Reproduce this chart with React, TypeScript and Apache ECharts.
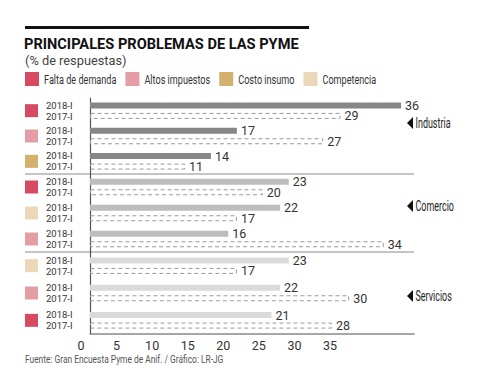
import React, { useEffect, useRef } from "react";
import * as echarts from "echarts";

const groups = ["Industria", "Comercio", "Servicios"];
const legendNames = ["Falta de demanda", "Altos impuestos", "Costo insumo", "Competencia"];
const legendColors = ["#d64b61", "#e39ea5", "#d3b06b", "#ead8b6"];
const industriaCats = ["Falta de demanda", "Altos impuestos", "Costo insumo"];
const comercioCats = ["Falta de demanda", "Competencia", "Altos impuestos"];
const serviciosCats = ["Competencia", "Altos impuestos", "Falta de demanda"];
const industria2018 = [36, 17, 14];
const industria2017 = [29, 27, 11];
const comercio2018 = [23, 22, 16];
const comercio2017 = [20, 17, 34];
const servicios2018 = [23, 22, 21];
const servicios2017 = [17, 30, 28];
const yearLabels = ["2018-I", "2017-I"];
const xTickMin = 0;
const xTickMax = 35;
const xTickStep = 5;

const SANS = "Roboto, 'Open Sans', sans-serif";

const groupCats = [industriaCats, comercioCats, serviciosCats];
const group2018 = [industria2018, comercio2018, servicios2018];
const group2017 = [industria2017, comercio2017, servicios2017];
const barColors = ["#878787", "#bdbdbd", "#dadada"];
const gridTops = [98, 174, 252];
const gridHeights = [76, 78, 82];
const groupLabelY = [123, 206, 296];

function measure(text: string, font: string): number {
  const c = document.createElement("canvas").getContext("2d");
  if (!c) return text.length * 6;
  c.font = font;
  return c.measureText(text).width;
}

export default function App() {
  const ref = useRef<HTMLDivElement>(null);
  useEffect(() => {
    if (!ref.current) return;
    const chart = echarts.init(ref.current, null, { renderer: "svg" });

    const grids: any[] = [];
    const xAxes: any[] = [];
    const yAxes: any[] = [];
    const series: any[] = [];
    const rich: any = {};
    legendNames.forEach((n, i) => {
      rich["s" + i] = { width: 13, height: 13, backgroundColor: legendColors[i] };
    });

    const valueLabel = { show: true, position: "right", distance: 4, fontFamily: SANS, fontSize: 12.5, color: "#333" };

    groups.forEach((g, gi) => {
      grids.push({ left: 90, width: 324, top: gridTops[gi], height: gridHeights[gi], containLabel: false });
      xAxes.push({
        type: "value",
        gridIndex: gi,
        min: 0,
        max: 37.5,
        show: gi === 2,
        axisLine: { show: gi === 2, lineStyle: { color: "#8a8a8a", width: 1.5 } },
        axisTick: { show: false },
        axisLabel: { show: false },
        splitLine: { show: false },
      });
      yAxes.push({
        type: "category",
        gridIndex: gi,
        inverse: true,
        data: groupCats[gi],
        axisLine: { show: true, onZero: false, lineStyle: { color: "#555", width: 1.2 } },
        axisTick: { show: false },
        axisLabel: {
          margin: 44,
          align: "left",
          fontFamily: SANS,
          fontSize: 9.5,
          lineHeight: 11,
          color: "#333",
          formatter: () => yearLabels.join("\n"),
        },
      });
      yAxes.push({
        type: "category",
        gridIndex: gi,
        inverse: true,
        data: groupCats[gi],
        position: "left",
        axisLine: { show: false },
        axisTick: { show: false },
        axisLabel: {
          margin: 65,
          align: "left",
          formatter: (v: string) => `{s${legendNames.indexOf(v)}| }`,
          rich,
        },
      });
      series.push({
        type: "bar",
        name: yearLabels[0] + " " + g,
        xAxisIndex: gi,
        yAxisIndex: gi * 2,
        data: group2018[gi],
        barWidth: 6,
        barGap: "75%",
        itemStyle: { color: barColors[gi] },
        label: valueLabel,
      });
      series.push({
        type: "bar",
        name: yearLabels[1] + " " + g,
        xAxisIndex: gi,
        yAxisIndex: gi * 2,
        data: group2017[gi],
        barWidth: 6,
        barGap: "75%",
        itemStyle: { color: "rgba(0,0,0,0)", borderColor: "#9a9a9a", borderWidth: 1, borderType: [4, 3] },
        label: valueLabel,
      });
    });

    // tick-label grid
    grids.push({ left: 81, width: 249, top: 98, height: 236 });
    xAxes.push({
      type: "value",
      gridIndex: 3,
      min: xTickMin,
      max: xTickMax,
      interval: xTickStep,
      axisLine: { show: false },
      axisTick: { show: false },
      splitLine: { show: false },
      axisLabel: { margin: 5, fontFamily: SANS, fontSize: 12.5, color: "#333" },
    });
    yAxes.push({ type: "value", gridIndex: 3, show: false });

    const graphics: any[] = [
      { type: "rect", shape: { x: 25, y: 26, width: 284, height: 3 }, style: { fill: "#111" } },
      { type: "line", shape: { x1: 25, y1: 174, x2: 414, y2: 174 }, style: { stroke: "#8a8a8a", lineWidth: 1 } },
      { type: "line", shape: { x1: 25, y1: 252, x2: 414, y2: 252 }, style: { stroke: "#8a8a8a", lineWidth: 1 } },
      {
        type: "text",
        x: 25,
        y: 359,
        scaleX: 0.84,
        style: { text: "Fuente: Gran Encuesta Pyme de Anif. / Gráfico: LR-JG", font: `10px ${SANS}`, fill: "#555", verticalAlign: "middle" },
      },
    ];

    // legend (condensed text)
    const legendFont = `13px ${SANS}`;
    const legendScale = 0.7;
    let lx = 25;
    legendNames.forEach((n, i) => {
      graphics.push({ type: "rect", shape: { x: lx, y: 72, width: 14, height: 14 }, style: { fill: legendColors[i] } });
      graphics.push({
        type: "text",
        x: lx + 19,
        y: 79.5,
        scaleX: legendScale,
        style: { text: n, font: legendFont, fill: "#333", verticalAlign: "middle" },
      });
      lx += 19 + measure(n, legendFont) * legendScale + 9;
    });

    groups.forEach((g, gi) => {
      graphics.push({
        type: "polygon",
        shape: { points: [[407, groupLabelY[gi]], [413, groupLabelY[gi] - 6], [413, groupLabelY[gi] + 6]] },
        style: { fill: "#111" },
      });
      graphics.push({
        type: "text",
        x: 415.5,
        y: groupLabelY[gi],
        scaleX: 0.64,
        style: { text: g, font: `14px ${SANS}`, fill: "#222", verticalAlign: "middle" },
      });
    });

    chart.setOption({
      animation: false,
      backgroundColor: "#fff",
      title: [
        { text: "PRINCIPALES PROBLEMAS DE LAS PYME", left: 24, top: 36, padding: 0, textStyle: { fontFamily: SANS, fontWeight: "bold", fontSize: 14.6, color: "#111" } },
        { text: "(% de respuestas)", left: 25, top: 54, padding: 0, textStyle: { fontFamily: SANS, fontWeight: "normal", fontSize: 12.8, color: "#444" } },
      ],
      grid: grids,
      xAxis: xAxes,
      yAxis: yAxes,
      series,
      graphic: graphics,
    });
    return () => chart.dispose();
  }, []);
  return <div ref={ref} style={{ position: "fixed", left: 0, top: 0, width: 480, height: 388, background: "#fff" }} />;
}
